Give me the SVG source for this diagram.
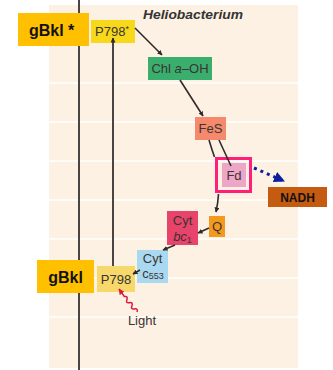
<svg xmlns="http://www.w3.org/2000/svg" width="333" height="370" viewBox="0 0 333 370">
  <defs>
    <marker id="ah" viewBox="0 0 10 10" refX="9" refY="5" markerWidth="5" markerHeight="5" orient="auto" markerUnits="userSpaceOnUse">
      <path d="M0,0 L10,5 L0,10 z" fill="#2f2a2a"/>
    </marker>
    <marker id="ahRed" viewBox="0 0 10 10" refX="9" refY="5" markerWidth="6" markerHeight="6" orient="auto" markerUnits="userSpaceOnUse">
      <path d="M0,0 L10,5 L0,10 z" fill="#d91a3c"/>
    </marker>
    <marker id="ahBlue" viewBox="0 0 10 10" refX="9" refY="5" markerWidth="11" markerHeight="11" orient="auto" markerUnits="userSpaceOnUse">
      <path d="M0,0 L10,5 L0,10 z" fill="#0a1f9e"/>
    </marker>
  </defs>
  <style>
    .lbl { font-family: "Liberation Sans", Arial, sans-serif; font-size: 13px; fill: #3a3434; text-anchor: middle; }
    .tag { font-family: "Liberation Sans", Arial, sans-serif; font-size: 16px; font-weight: bold; fill: #111; }
    .wire { stroke: #2f2a2a; stroke-width: 1.6; fill: none; }
    .grid { stroke: #ffffff; stroke-width: 1.5; }
  </style>

  <rect width="333" height="370" fill="#ffffff"/>
  <!-- energy panel -->
  <rect x="49" y="5" width="249" height="363" fill="#fdf1e4"/>
  <g id="gridlines">
    <line class="grid" x1="49" y1="83" x2="298" y2="83"/>
    <line class="grid" x1="49" y1="122" x2="298" y2="122"/>
    <line class="grid" x1="49" y1="161" x2="298" y2="161"/>
    <line class="grid" x1="49" y1="200" x2="298" y2="200"/>
    <line class="grid" x1="49" y1="239" x2="298" y2="239"/>
    <line class="grid" x1="49" y1="278" x2="298" y2="278"/>
    <line class="grid" x1="49" y1="317" x2="298" y2="317"/>
  </g>

  <!-- potential axis -->
  <line x1="79" y1="0" x2="79" y2="370" stroke="#4a4444" stroke-width="2"/>

  <text x="193" y="19" font-family="'Liberation Sans', Arial, sans-serif" font-size="12" font-weight="bold" font-style="italic" fill="#333" text-anchor="middle" textLength="100" lengthAdjust="spacingAndGlyphs">Heliobacterium</text>

  <g id="tag-excited">
    <rect x="18" y="13" width="71" height="33" fill="#ffc000"/>
    <text class="tag" x="29" y="36">gBkl *</text>
  </g>
  <g id="p798-excited">
    <rect x="91" y="20" width="44" height="23" fill="#f7d81a"/>
    <text class="lbl" x="112" y="36">P798<tspan font-size="9" dy="-4">*</tspan></text>
  </g>
  <g id="chl-a-oh">
    <rect x="148" y="57" width="64" height="23" fill="#3aae6c"/>
    <text class="lbl" x="180" y="73">Chl <tspan font-style="italic">a</tspan>–OH</text>
  </g>
  <g id="fes">
    <rect x="195" y="117" width="31" height="23" fill="#f4896b"/>
    <text class="lbl" x="210.5" y="133">FeS</text>
  </g>
  <g id="nadh">
    <rect x="268" y="187" width="59" height="20" fill="#c55a11"/>
    <text x="297.5" y="201.5" font-family="'Liberation Sans', Arial, sans-serif" font-size="12" font-weight="bold" fill="#111" text-anchor="middle">NADH</text>
  </g>
  <g id="q">
    <rect x="209" y="216" width="16" height="21" fill="#f39a1e"/>
    <text class="lbl" x="217" y="231">Q</text>
  </g>
  <g id="cyt-bc1">
    <rect x="167" y="211" width="31" height="34" fill="#e8436a"/>
    <text class="lbl" x="182.5" y="225">Cyt</text>
    <text class="lbl" x="182.5" y="241"><tspan font-style="italic">bc</tspan><tspan font-size="9" dy="2">1</tspan></text>
  </g>
  <g id="cyt-c553">
    <rect x="137" y="250" width="31" height="33" fill="#a9d8f1"/>
    <text class="lbl" x="152.5" y="263">Cyt</text>
    <text class="lbl" x="153" y="278">c<tspan font-size="9" dy="1">553</tspan></text>
  </g>
  <g id="p798">
    <rect x="97" y="266" width="38" height="26" fill="#f7d96b"/>
    <text class="lbl" x="116" y="284">P798</text>
  </g>
  <g id="tag-ground">
    <rect x="37" y="260" width="57" height="33" fill="#ffc000"/>
    <text class="tag" x="65.5" y="283" text-anchor="middle">gBkl</text>
  </g>
  <text class="lbl" x="142" y="325">Light</text>

  <g id="fd">
    <rect x="222" y="163" width="24" height="24" fill="#eea6c6"/>
    <text class="lbl" x="234" y="180">Fd</text>
    <rect x="216.5" y="158.5" width="34" height="33" fill="none" stroke="#ff1f78" stroke-width="3"/>
  </g>

  <g id="connectors">
    <line x1="113" y1="266" x2="113" y2="38" stroke="#4a4444" stroke-width="2" marker-end="url(#ah)"/>
    <line class="wire" x1="135" y1="28" x2="162" y2="55" marker-end="url(#ah)"/>
    <line class="wire" x1="180" y1="80" x2="203" y2="116" marker-end="url(#ah)"/>
    <path class="wire" d="M219,140 L231,166"/>
    <path class="wire" d="M209,140 Q212,150 214.5,157"/>
    <path class="wire" d="M218.5,194 Q218,203 216,212" marker-end="url(#ah)"/>
    <line class="wire" x1="209" y1="228" x2="198" y2="233" marker-end="url(#ah)"/>
    <line class="wire" x1="175" y1="245" x2="163" y2="250" marker-end="url(#ah)"/>
    <line class="wire" x1="140" y1="270" x2="133" y2="274" marker-end="url(#ah)"/>
    <path d="M137,312 Q138.4,308.3 134.5,308.9 Q130.5,309.6 131.9,305.8 Q133.4,302.1 129.4,302.7 Q125.4,303.4 126.9,299.6 Q128.3,295.9 124.3,296.5 L119,289" stroke="#d91a3c" stroke-width="1.5" fill="none" marker-end="url(#ahRed)"/>
    <line x1="254" y1="168" x2="284" y2="181" stroke="#0a1f9e" stroke-width="3" stroke-dasharray="3,4" marker-end="url(#ahBlue)"/>
  </g>
</svg>
